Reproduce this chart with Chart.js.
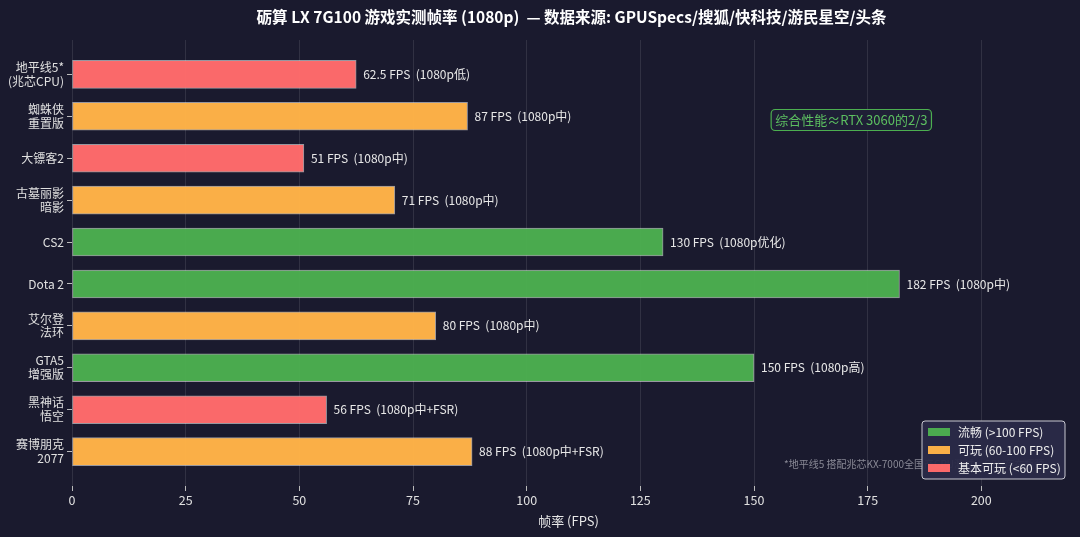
<!DOCTYPE html>
<html><head><meta charset="utf-8">
<script src="https://cdn.jsdelivr.net/npm/chart.js@4.4.1/dist/chart.umd.min.js"></script>
<style>html,body{margin:0;padding:0;background:#1a1a2e;}#wrap{width:1080px;height:537px;}</style>
</head><body><div id="wrap"><canvas id="c" width="1080" height="537"></canvas></div>
<script>
const games = [['地平线5*','(兆芯CPU)'],['蜘蛛侠','重置版'],['大镖客2'],['古墓丽影','暗影'],['CS2'],['Dota 2'],['艾尔登','法环'],['GTA5','增强版'],['黑神话','悟空'],['赛博朋克','2077']];
const fps = [62.5, 87, 51, 71, 130, 182, 80, 150, 56, 88];
const settings = ['1080p低','1080p中','1080p中','1080p中','1080p优化','1080p中','1080p中','1080p高','1080p中+FSR','1080p中+FSR'];
const tiers = ['basic','ok','basic','ok','smooth','smooth','ok','smooth','basic','ok'];
const xTicks = [0,25,50,75,100,125,150,175,200];
const tierNames = {smooth:'流畅 (>100 FPS)', ok:'可玩 (60-100 FPS)', basic:'基本可玩 (<60 FPS)'};
const tierColors = {smooth:'rgba(76,175,80,0.97)', ok:'rgba(255,179,71,0.98)', basic:'rgba(255,107,107,0.98)'};
const titleText = '砺算 LX 7G100 游戏实测帧率 (1080p)  — 数据来源: GPUSpecs/搜狐/快科技/游民星空/头条';
const noteText = '综合性能≈RTX 3060的2/3';
const footText = '*地平线5 搭配兆芯KX-7000全国产CPU测试，GPU存在瓶颈';

const FONT = '"Noto Sans CJK SC","Noto Sans",sans-serif';
const xMax = Math.max(...fps) * 1.2;

const extras = {
  id:'extras',
  beforeDraw(chart){
    const c = chart.ctx;
    c.save(); c.fillStyle = '#1a1a2e'; c.fillRect(0,0,chart.width,chart.height); c.restore();
  },
  afterDatasetsDraw(chart){
    const c = chart.ctx, xs = chart.scales.x, ys = chart.scales.y;
    c.save();
    c.font = '12px ' + FONT; c.fillStyle = '#e8e8e8'; c.textBaseline = 'middle'; c.textAlign = 'left';
    fps.forEach((v,i)=>{
      c.fillText(v + ' FPS  (' + settings[i] + ')', xs.getPixelForValue(v) + 7, ys.getPixelForValue(i));
    });
    c.restore();
  },
  afterDraw(chart){
    const c = chart.ctx, xs = chart.scales.x, a = chart.chartArea;
    c.save();
    // title
    c.font = 'bold 15.5px ' + FONT; c.fillStyle = '#ffffff'; c.textAlign = 'center'; c.textBaseline = 'middle';
    c.fillText(titleText, (a.left + a.right) / 2 + 3, 17);
    // annotation
    c.font = '13px ' + FONT; c.textAlign = 'center';
    const nx = xs.getPixelForValue(171.4), ny = 120;
    const w = c.measureText(noteText).width + 8, h = 21;
    c.beginPath(); c.roundRect(nx - w/2, ny - h/2, w, h, 4);
    c.fillStyle = '#1f1f36'; c.fill(); c.strokeStyle = '#4caf50'; c.lineWidth = 1.2; c.stroke();
    c.fillStyle = '#5cbf60'; c.fillText(noteText, nx, ny + 0.5);
    // footnote
    c.font = '10px ' + FONT; c.fillStyle = '#8a8a96'; c.textAlign = 'left';
    c.fillText(footText, 784, 464);
    // legend
    const lx = 922, ly = 421, lw = 143, lh = 58;
    c.beginPath(); c.roundRect(lx, ly, lw, lh, 3);
    c.fillStyle = 'rgba(42,42,72,0.95)'; c.fill(); c.strokeStyle = '#c8c8d0'; c.lineWidth = 1; c.stroke();
    c.font = '12px ' + FONT; c.textAlign = 'left';
    ['smooth','ok','basic'].forEach((t,k)=>{
      const yy = ly + 11 + k*18;
      c.fillStyle = tierColors[t]; c.fillRect(lx + 6, yy - 4, 22, 8);
      c.fillStyle = '#eeeeee'; c.fillText(tierNames[t], lx + 36, yy);
    });
    c.restore();
  }
};

new Chart(document.getElementById('c'), {
  type:'bar',
  data:{
    datasets:[{
      data: fps.map((v,i)=>({x:v, y:i})),
      backgroundColor: tiers.map(t=>tierColors[t]),
      borderColor: 'rgba(255,255,255,0.55)',
      borderWidth: 1,
      borderSkipped: false,
      barThickness: 28
    }]
  },
  options:{
    indexAxis:'y',
    responsive:false,
    animation:false,
    devicePixelRatio:1,
    layout:{padding:{top:40,right:15,left:0,bottom:8}},
    plugins:{legend:{display:false},tooltip:{enabled:false},title:{display:false}},
    scales:{
      x:{
        type:'linear', min:0, max:xMax,
        afterBuildTicks(s){ s.ticks = xTicks.map(v=>({value:v})); },
        afterFit(s){ s.height = 43; },
        grid:{color:'rgba(255,255,255,0.10)', lineWidth:1, drawTicks:true, tickLength:5, tickColor:'#bbbbbb', tickWidth:1},
        border:{display:false},
        ticks:{color:'#e0e0e0', font:{size:12.5, family:FONT}, padding:2},
        title:{display:true, text:'帧率 (FPS)', color:'#e8e8e8', font:{size:13, family:FONT}, padding:{top:0,bottom:0}}
      },
      y:{
        type:'linear', min:-0.82, max:9.82, reverse:true, offset:false,
        afterBuildTicks(s){ s.ticks = games.map((_,i)=>({value:i})); },
        afterFit(s){ s.width = 72; },
        grid:{display:true, offset:false, drawOnChartArea:false, drawTicks:true, tickLength:5, tickColor:'#bbbbbb'},
        border:{display:false},
        ticks:{color:'#e0e0e0', font:{size:12, family:FONT, lineHeight:1.15}, padding:3,
          callback:(v)=>games[v]}
      }
    }
  },
  plugins:[extras]
});
</script></body></html>
